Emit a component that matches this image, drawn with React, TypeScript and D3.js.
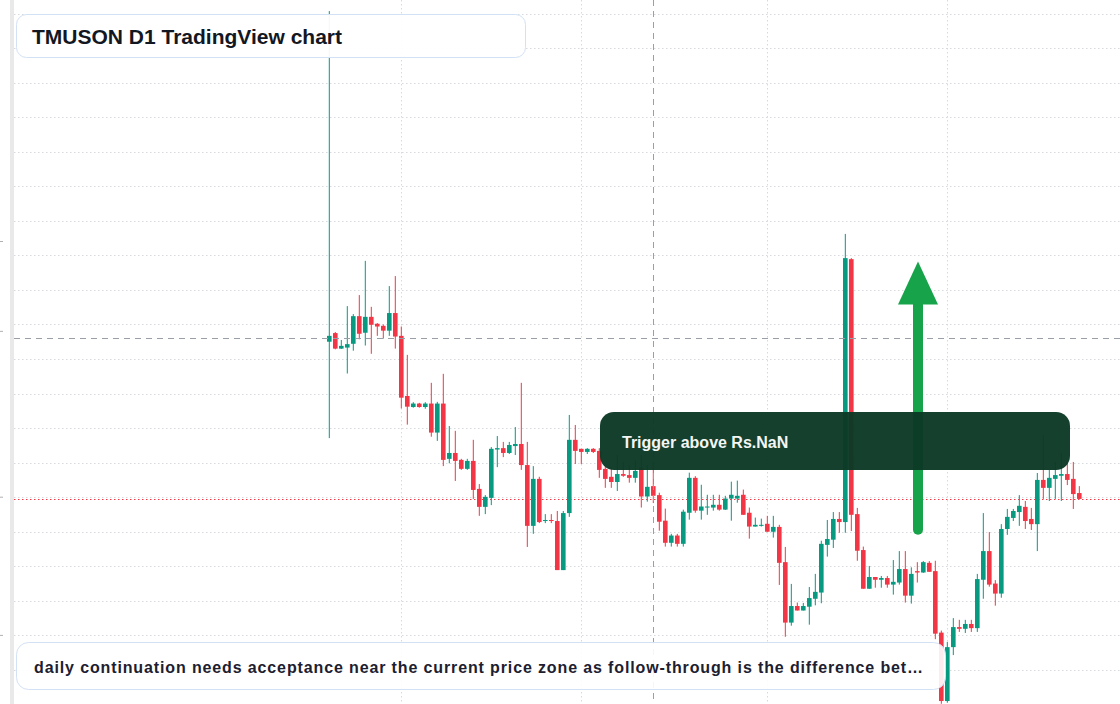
import React from "react";
import * as d3 from "d3";

// ---- data (daily candles) ----
const startDate = Date.UTC(2024, 2, 20);
const DAY = 86400000;

const openPrices = [
  445.0, 447.5, 443.0, 443.3, 444.4, 452.4, 447.6, 452.2, 450.2, 449.6,
  448.2, 453.3, 446.7, 429.3, 426.1, 427.1, 426.1, 427.1, 418.7, 427.1,
  411.1, 412.8, 410.8, 408.2, 410.5, 402.4, 397.2, 399.8, 413.8, 414.2,
  412.8, 414.8, 415.4, 409.3, 391.7, 405.3, 393.1, 393.4, 393.1, 378.9,
  395.4, 416.6, 414.0, 413.1, 414.0, 413.4, 408.2, 405.9, 404.4, 406.7,
  406.4, 405.6, 408.5, 400.2, 403.2, 400.6, 393.2, 386.8, 388.9, 386.5,
  395.5, 405.6, 396.1, 397.0, 397.0, 397.8, 396.4, 399.6, 399.6, 400.7,
  395.5, 391.5, 391.8, 392.3, 390.0, 391.4, 381.2, 363.7, 368.5, 367.2,
  368.3, 370.6, 372.4, 386.2, 387.7, 393.7, 392.8, 468.9, 395.1, 384.7,
  373.5, 376.9, 376.1, 376.6, 374.7, 375.3, 379.2, 371.5, 378.6, 378.2,
  381.0, 378.6, 360.8, 341.0, 356.6, 362.4, 361.9, 363.3, 362.1, 376.1,
  384.4, 375.0, 372.1, 390.8, 394.0, 395.7, 397.2, 393.7, 392.2, 405.0,
  402.7, 405.3, 406.2, 406.7, 405.3, 401.2,
];

const closePrices = [
  446.7, 443.0, 443.8, 444.3, 452.4, 447.3, 452.2, 449.9, 449.4, 448.2,
  453.3, 446.5, 428.8, 426.2, 427.1, 426.1, 427.1, 418.7, 427.1, 410.8,
  412.8, 410.5, 408.2, 410.5, 402.1, 397.2, 400.1, 414.0, 414.2, 412.8,
  415.1, 415.4, 409.3, 391.7, 405.3, 392.8, 393.4, 393.1, 378.9, 395.4,
  416.6, 413.4, 413.1, 414.0, 413.1, 407.9, 405.3, 404.4, 406.7, 406.2,
  405.6, 407.6, 400.2, 403.0, 400.4, 392.9, 386.8, 388.9, 386.5, 395.8,
  405.6, 396.1, 397.3, 397.3, 397.8, 396.4, 399.6, 400.7, 400.4, 394.9,
  391.5, 392.0, 392.0, 390.0, 391.4, 381.0, 363.7, 368.5, 367.2, 368.5,
  370.8, 372.6, 386.5, 387.9, 393.7, 392.8, 469.2, 394.9, 384.5, 373.5,
  376.9, 376.1, 376.6, 374.7, 375.5, 379.2, 371.5, 377.8, 378.2, 381.2,
  378.4, 360.5, 341.0, 356.6, 362.4, 361.9, 363.3, 362.1, 376.3, 384.4,
  374.7, 372.1, 390.8, 394.3, 396.0, 397.5, 393.1, 392.2, 405.0, 402.7,
  405.6, 406.4, 406.7, 405.0, 400.9, 399.5,
];

const highPrices = [
  540.7, 447.8, 445.5, 455.3, 453.0, 458.5, 468.4, 455.1, 450.4, 450.0,
  461.1, 464.0, 449.4, 441.2, 427.5, 427.3, 427.5, 433.1, 427.6, 435.7,
  420.6, 419.2, 411.1, 411.1, 416.6, 403.8, 400.6, 414.5, 417.7, 416.0,
  416.0, 420.3, 433.1, 416.0, 409.0, 405.9, 395.1, 395.1, 396.0, 396.0,
  423.8, 420.9, 414.0, 414.2, 414.2, 414.2, 409.0, 408.7, 412.2, 410.2,
  409.3, 410.8, 412.2, 409.3, 410.2, 401.3, 396.7, 389.4, 389.4, 396.4,
  407.1, 406.1, 403.6, 400.7, 400.7, 400.7, 400.4, 404.5, 404.8, 402.2,
  397.0, 394.1, 393.8, 394.6, 394.6, 392.0, 385.6, 374.9, 369.5, 369.4,
  374.0, 377.8, 387.4, 393.4, 395.7, 395.7, 476.2, 469.2, 396.9, 385.7,
  380.1, 376.9, 377.2, 377.2, 381.8, 384.4, 384.4, 379.7, 381.2, 381.5,
  381.5, 381.6, 361.4, 358.1, 365.0, 364.5, 364.5, 364.5, 377.8, 395.4,
  389.9, 376.0, 392.2, 396.6, 396.6, 400.6, 398.9, 396.9, 407.0, 418.0,
  407.9, 410.2, 412.8, 410.2, 410.2, 403.2,
];

const lowPrices = [
  417.1, 442.8, 442.9, 435.8, 442.4, 445.7, 443.9, 441.5, 446.7, 445.9,
  446.7, 443.0, 425.7, 421.0, 425.9, 425.9, 425.6, 417.5, 416.3, 409.0,
  409.8, 404.7, 407.9, 407.9, 399.5, 394.6, 395.1, 397.7, 408.7, 411.6,
  412.5, 412.2, 407.9, 385.6, 389.4, 392.5, 392.5, 392.5, 378.9, 378.9,
  394.3, 409.6, 409.6, 412.5, 412.8, 405.6, 402.7, 402.7, 401.8, 405.9,
  404.2, 404.2, 397.0, 398.7, 398.3, 390.3, 385.7, 385.7, 385.7, 385.7,
  393.5, 395.5, 393.5, 394.9, 396.1, 396.1, 396.3, 393.2, 398.4, 394.9,
  388.0, 391.5, 391.5, 390.0, 388.3, 374.6, 359.6, 362.8, 367.2, 367.2,
  363.1, 368.7, 369.3, 382.8, 385.3, 389.7, 389.7, 390.2, 381.6, 373.5,
  373.5, 373.8, 373.8, 373.8, 371.8, 374.7, 369.5, 369.2, 375.3, 378.1,
  378.4, 358.9, 340.2, 340.5, 354.3, 361.0, 360.7, 361.0, 361.0, 370.6,
  374.1, 368.6, 370.9, 389.1, 393.1, 391.7, 390.8, 390.5, 384.4, 399.5,
  398.9, 399.5, 398.9, 403.5, 396.6, 399.5,
];

const gridPrices = [350, 360, 370, 380, 390, 400, 410, 420, 430, 440, 450, 460, 470, 480, 490, 500, 510, 520, 530, 540];
const axisStubPrices = [474, 448, 400, 360];

const crosshairIndex = 54;
const crosshairPrice = 446.1;
const arrowFromPrice = 390.6;
const arrowToPrice = 468.2;

const titleText = "TMUSON D1 TradingView chart";
const triggerText = "Trigger above Rs.NaN";
const noteText =
  "daily continuation needs acceptance near the current price zone as follow-through is the difference bet\u2026";

const UP = "#089981";
const DOWN = "#f23645";

type Candle = { date: Date; o: number; h: number; l: number; c: number };
const candles: Candle[] = openPrices.map((o, i) => ({
  date: new Date(startDate + i * DAY),
  o,
  h: highPrices[i],
  l: lowPrices[i],
  c: closePrices[i],
}));

export default function App() {
  const W = 1120;
  const H = 704;
  const left = 14;

  const x = d3
    .scaleUtc()
    .domain([new Date(startDate - 52.55 * DAY), new Date(startDate + 131.78 * DAY)])
    .range([left, W]);
  const y = d3.scaleLinear().domain([340.14, 543.91]).range([H, 0]);

  const monthTicks = d3.utcMonth.range(candles[0].date, candles[candles.length - 1].date);
  const bodyW = 4.6;
  const lastClose = closePrices[closePrices.length - 1];
  const cx = x(candles[crosshairIndex].date);
  const cy = y(crosshairPrice);

  const arrowX = 918;
  const headBase = y(arrowToPrice) + 43;
  const headTip = y(arrowToPrice);

  return (
    <svg
      width={W}
      height={H}
      style={{ position: "absolute", left: 0, top: 0, display: "block" }}
      fontFamily='"Liberation Sans", Arial, Helvetica, sans-serif'
    >
      <rect x={0} y={0} width={W} height={H} fill="#ffffff" />
      <rect x={10} y={0} width={4} height={H} fill="#e9e9e9" />
      {axisStubPrices.map((p, i) => (
        <line key={i} x1={0} x2={3} y1={y(p)} y2={y(p)} stroke="#b0b0b0" strokeWidth={1} />
      ))}

      {/* grid */}
      {gridPrices.map((p) => (
        <line
          key={"g" + p}
          x1={left}
          x2={W}
          y1={Math.round(y(p)) + 0.5}
          y2={Math.round(y(p)) + 0.5}
          stroke="#d6d9de"
          strokeDasharray="1.5 2.5"
        />
      ))}
      {monthTicks.map((d, i) => (
        <line
          key={"v" + i}
          x1={Math.round(x(d)) + 0.5}
          x2={Math.round(x(d)) + 0.5}
          y1={0}
          y2={H}
          stroke="#d6d9de"
          strokeDasharray="1.5 2.5"
        />
      ))}

      {/* last close line */}
      <line
        x1={left}
        x2={W}
        y1={Math.round(y(lastClose)) + 0.5}
        y2={Math.round(y(lastClose)) + 0.5}
        stroke={DOWN}
        strokeDasharray="1.5 2.5"
      />

      {/* candles */}
      {candles.map((k, i) => {
        const col = k.c >= k.o ? UP : DOWN;
        const xc = x(k.date);
        const top = y(Math.max(k.o, k.c));
        const bot = y(Math.min(k.o, k.c));
        return (
          <g key={i}>
            <line x1={xc} x2={xc} y1={y(k.h)} y2={y(k.l)} stroke={col} strokeWidth={1} />
            <rect x={xc - bodyW / 2} y={top} width={bodyW} height={Math.max(1, bot - top)} fill={col} />
          </g>
        );
      })}

      {/* crosshair */}
      <line x1={left} x2={W} y1={Math.round(cy) + 0.5} y2={Math.round(cy) + 0.5} stroke="#9a9ea6" strokeDasharray="6 5" />
      <line x1={Math.round(cx) + 0.5} x2={Math.round(cx) + 0.5} y1={0} y2={H} stroke="#9a9ea6" strokeDasharray="6 5" />

      {/* arrow */}
      <line
        x1={arrowX}
        x2={arrowX}
        y1={y(arrowFromPrice)}
        y2={headBase - 2}
        stroke="#17a34a"
        strokeWidth={10}
        strokeLinecap="round"
      />
      <polygon
        points={`${arrowX - 20},${headBase} ${arrowX + 20},${headBase} ${arrowX},${headTip}`}
        fill="#17a34a"
      />

      {/* trigger box */}
      <rect x={600} y={412} width={470} height={58} rx={14} fill="#0c3a26" fillOpacity={0.97} />
      <text x={622} y={447.5} fill="#f4f6f4" fontSize={16} fontWeight={700}>
        {triggerText}
      </text>

      {/* title box */}
      <rect x={16.5} y={14.5} width={509} height={43} rx={10} fill="#ffffff" fillOpacity={0.94} stroke="#d3e1f4" />
      <text x={32} y={43.5} fill="#131722" fontSize={21} fontWeight={700} textLength={310} lengthAdjust="spacingAndGlyphs">
        {titleText}
      </text>

      {/* note box */}
      <rect x={16.5} y={642.5} width={929} height={47} rx={12} fill="#ffffff" fillOpacity={0.9} stroke="#d3e1f4" />
      <text x={34} y={672.5} fill="#1c2030" fontSize={16} fontWeight={700} textLength={889} lengthAdjust="spacing">
        {noteText}
      </text>
    </svg>
  );
}
